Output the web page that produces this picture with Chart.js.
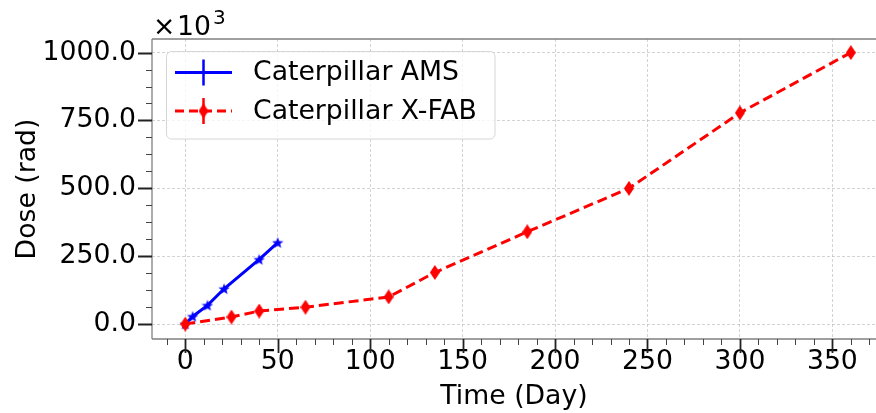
<!DOCTYPE html>
<html><head><meta charset="utf-8">
<script src="https://cdn.jsdelivr.net/npm/chart.js@4/dist/chart.umd.min.js"></script>
<style>html,body{margin:0;padding:0;background:#fff;overflow:hidden}</style>
</head><body>
<canvas id="c" width="876" height="413"></canvas>
<script>
// ---- data (dose in units of 10^3 rad) ----
const amsDays  = [0, 4, 12, 21, 40, 50];
const amsDose  = [0, 28, 69, 130, 238, 300];
const xfabDays = [0, 25, 40, 65, 110, 135, 185, 240, 300, 360];
const xfabDose = [0, 26, 48, 62, 100, 190, 340, 500, 778, 1000];
const xMajorTicks = [0, 50, 100, 150, 200, 250, 300, 350];
const yMajorTicks = [0, 250, 500, 750, 1000];
const seriesNames = ['Caterpillar AMS', 'Caterpillar X-FAB'];
const xTitle = 'Time (Day)';
const yTitle = 'Dose (rad)';
const offsetText = ['\u00d7', '10', '3'];

const FONT = 'DejaVu Sans';
const FS = 26.7;
const BLUE = '#0000ff', RED = '#ff0000';

function starCanvas(color, size){
  const c = document.createElement('canvas'); c.width = size; c.height = size;
  const g = c.getContext('2d'); const cx = size/2, cy = size/2 + 0.5, R = size/2, r = R*0.42;
  g.beginPath();
  for (let i = 0; i < 10; i++) {
    const a = -Math.PI/2 + i*Math.PI/5, rr = i%2 ? r : R;
    g.lineTo(cx + rr*Math.cos(a), cy + rr*Math.sin(a));
  }
  g.closePath(); g.fillStyle = color; g.fill();
  return c;
}
function diamondCanvas(color, w, h){
  const c = document.createElement('canvas'); c.width = w; c.height = h;
  const g = c.getContext('2d');
  g.beginPath(); g.moveTo(w/2,0); g.lineTo(w,h/2); g.lineTo(w/2,h); g.lineTo(0,h/2); g.closePath();
  g.fillStyle = color; g.fill();
  return c;
}
const starImg = starCanvas(BLUE, 12);
const diaImg = diamondCanvas(RED, 10, 15);

const toPts = (xs, ys) => xs.map((x, i) => ({x, y: ys[i]}));

const decor = {
  id: 'decor',
  afterDraw(chart) {
    const {ctx, chartArea: a, scales: {x, y}} = chart;
    ctx.save();
    // spines
    ctx.strokeStyle = '#808080'; ctx.lineWidth = 1.3; ctx.setLineDash([]);
    ctx.beginPath();
    ctx.moveTo(a.left, a.top); ctx.lineTo(a.right, a.top);
    ctx.moveTo(a.left, a.top); ctx.lineTo(a.left, a.bottom);
    ctx.moveTo(a.left, a.bottom); ctx.lineTo(a.right, a.bottom);
    ctx.stroke();
    // ticks
    ctx.strokeStyle = '#222';
    ctx.lineWidth = 1.8; ctx.beginPath();
    xMajorTicks.forEach(v => { const p = Math.round(x.getPixelForValue(v)) + 0.5; ctx.moveTo(p, a.bottom); ctx.lineTo(p, a.bottom + 14); });
    yMajorTicks.forEach(v => { const p = Math.round(y.getPixelForValue(v)) + 0.5; ctx.moveTo(a.left, p); ctx.lineTo(a.left - 14, p); });
    ctx.stroke();
    ctx.lineWidth = 1; ctx.strokeStyle = '#444'; ctx.beginPath();
    for (let v = -10; v <= x.max; v += 10) {
      if (v % 50 === 0 || v < x.min) continue;
      const p = Math.round(x.getPixelForValue(v)) + 0.5; ctx.moveTo(p, a.bottom); ctx.lineTo(p, a.bottom + 6);
    }
    for (let v = -62.5; v <= y.max; v += 62.5) {
      if (v % 250 === 0 || v < y.min) continue;
      const p = Math.round(y.getPixelForValue(v)) + 0.5; ctx.moveTo(a.left, p); ctx.lineTo(a.left - 6, p);
    }
    ctx.stroke();
    // offset text x10^3
    ctx.fillStyle = '#000'; ctx.textBaseline = 'alphabetic'; ctx.textAlign = 'left';
    ctx.font = FS + 'px "' + FONT + '"';
    ctx.fillText(offsetText[0], 153, 35);
    ctx.fillText(offsetText[1], 177, 35);
    const w = ctx.measureText(offsetText[1]).width;
    ctx.font = (FS*0.75) + 'px "' + FONT + '"';
    ctx.fillText(offsetText[2], 177 + w + 2, 24);
    // legend
    const lx = 166.5, ly = 51.5, lw = 328.5, lh = 87.5, rad = 5;
    ctx.beginPath();
    ctx.moveTo(lx + rad, ly); ctx.arcTo(lx + lw, ly, lx + lw, ly + lh, rad);
    ctx.arcTo(lx + lw, ly + lh, lx, ly + lh, rad); ctx.arcTo(lx, ly + lh, lx, ly, rad);
    ctx.arcTo(lx, ly, lx + lw, ly, rad); ctx.closePath();
    ctx.fillStyle = 'rgba(255,255,255,0.8)'; ctx.fill();
    ctx.strokeStyle = '#d6d6d6'; ctx.lineWidth = 1; ctx.stroke();
    const rows = [{c: BLUE, dash: [], y: 72.5, name: seriesNames[0]}, {c: RED, dash: [9, 5], y: 111, name: seriesNames[1]}];
    rows.forEach(r => {
      ctx.strokeStyle = r.c; ctx.lineWidth = 3; ctx.setLineDash(r.dash);
      ctx.beginPath(); ctx.moveTo(175, r.y); ctx.lineTo(232, r.y); ctx.stroke();
      ctx.setLineDash([]); ctx.lineWidth = 2.5;
      ctx.beginPath(); ctx.moveTo(203.5, r.y - 13); ctx.lineTo(203.5, r.y + 13); ctx.stroke();
      ctx.fillStyle = '#000'; ctx.font = FS + 'px "' + FONT + '"'; ctx.textBaseline = 'middle';
      ctx.fillText(r.name, 253, r.y + 1);
    });
    ctx.drawImage(diaImg, 203.5 - 5, 111 - 7.5);
    ctx.restore();
  }
};

new Chart(document.getElementById('c'), {
  type: 'line',
  data: {
    datasets: [
      {label: seriesNames[0], data: toPts(amsDays, amsDose), borderColor: BLUE, backgroundColor: BLUE,
       borderWidth: 3, pointStyle: starImg, pointRadius: 5, tension: 0, order: 1},
      {label: seriesNames[1], data: toPts(xfabDays, xfabDose), borderColor: RED, backgroundColor: RED,
       borderWidth: 3, borderDash: [10, 5], pointStyle: diaImg, pointRadius: 6, tension: 0, order: 0}
    ]
  },
  options: {
    responsive: false, animation: false, events: [],
    layout: {autoPadding: false, padding: {top: 39, right: 0, left: 0, bottom: 0}},
    plugins: {legend: {display: false}, tooltip: {enabled: false}},
    scales: {
      x: {
        type: 'linear', min: -18, max: 373.6,
        afterBuildTicks: s => { s.ticks = xMajorTicks.map(v => ({value: v})); },
        afterFit: s => { s.height = 74; s.paddingLeft = 0; s.paddingRight = 0; },
        ticks: {font: {family: FONT, size: FS}, color: '#000', padding: 7, maxRotation: 0, autoSkip: false,
                callback: v => String(v)},
        grid: {drawTicks: false, color: 'rgba(176,176,176,0.7)', lineWidth: 0.8},
        border: {display: false, dash: [3, 2]},
        title: {display: true, text: xTitle, font: {family: FONT, size: FS}, color: '#000', padding: {top: 0, bottom: 0}}
      },
      y: {
        type: 'linear', min: -55, max: 1050,
        afterBuildTicks: s => { s.ticks = yMajorTicks.map(v => ({value: v})); },
        afterFit: s => { s.width = 152; s.paddingTop = 0; s.paddingBottom = 0; },
        ticks: {font: {family: FONT, size: FS}, color: '#000', padding: 16, autoSkip: false,
                callback: v => Number(v).toFixed(1)},
        grid: {drawTicks: false, color: 'rgba(176,176,176,0.7)', lineWidth: 0.8},
        border: {display: false, dash: [3, 2]},
        title: {display: true, text: yTitle, font: {family: FONT, size: FS}, color: '#000', padding: {top: 12, bottom: 0}}
      }
    }
  },
  plugins: [decor]
});
</script>
</body></html>
